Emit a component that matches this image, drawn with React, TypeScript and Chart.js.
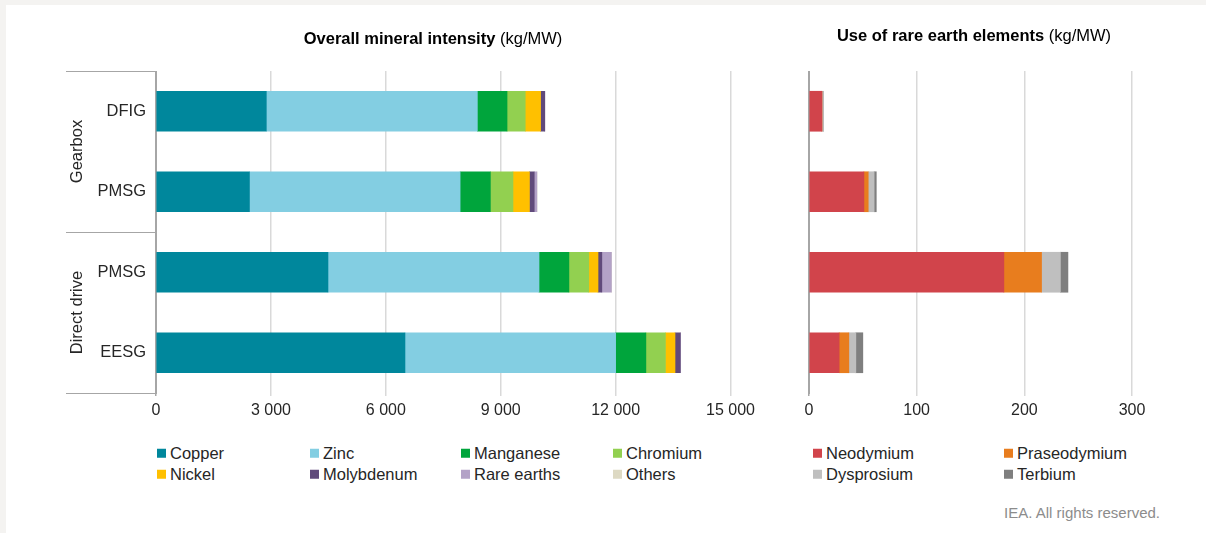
import React, { useEffect, useRef } from 'react';
import { Chart, registerables } from 'chart.js';

Chart.register(...registerables);

// ---------- data ----------
const categories = ['DFIG', 'PMSG', 'PMSG', 'EESG'];
const groups = ['Gearbox', 'Direct drive'];

// Overall mineral intensity (kg/MW)
const copper = [2880, 2440, 4490, 6500];
const zinc = [5510, 5500, 5510, 5500];
const manganese = [775, 790, 780, 790];
const chromium = [475, 590, 520, 510];
const nickel = [400, 430, 240, 250];
const molybdenum = [110, 125, 100, 140];
const rareEarths = [0, 70, 250, 0];
const others = [0, 0, 0, 0];

// Use of rare earth elements (kg/MW)
const neodymium = [12, 51, 181, 28];
const praseodymium = [0, 4, 35, 9];
const dysprosium = [1.5, 5.5, 17.5, 6.5];
const terbium = [0, 2, 7, 6.5];

const leftTicks = [0, 3000, 6000, 9000, 12000, 15000];
const rightTicks = [0, 100, 200, 300];

// ---------- style ----------
const FONT = '"Liberation Sans", Arial, sans-serif';
const TEXT = '#262626';
const GRID = '#d9d9d9';
const AXIS = '#a6a6a6';

const colors: Record<string, string> = {
  Copper: '#00879c',
  Zinc: '#83cee2',
  Manganese: '#00a53c',
  Chromium: '#92d050',
  Nickel: '#ffc000',
  Molybdenum: '#604a7b',
  'Rare earths': '#b3a2c7',
  Others: '#ddd9c3',
  Neodymium: '#d1444b',
  Praseodymium: '#e87d1e',
  Dysprosium: '#bfbfbf',
  Terbium: '#7f7f7f',
};

const leftSeries: [string, number[]][] = [
  ['Copper', copper],
  ['Zinc', zinc],
  ['Manganese', manganese],
  ['Chromium', chromium],
  ['Nickel', nickel],
  ['Molybdenum', molybdenum],
  ['Rare earths', rareEarths],
  ['Others', others],
];
const rightSeries: [string, number[]][] = [
  ['Neodymium', neodymium],
  ['Praseodymium', praseodymium],
  ['Dysprosium', dysprosium],
  ['Terbium', terbium],
];

const fmt = (v: number) => {
  const s = Math.round(v).toString();
  return s.replace(/\B(?=(\d{3})+(?!\d))/g, ' ');
};

const groupPlugin = {
  id: 'groupBrackets',
  afterDraw(chart: any) {
    const { ctx, chartArea } = chart;
    const y = chart.scales.y;
    const top = chartArea.top;
    const bottom = chartArea.bottom;
    const mid = (y.getPixelForValue(1) + y.getPixelForValue(2)) / 2;
    ctx.save();
    ctx.strokeStyle = AXIS;
    ctx.lineWidth = 1;
    [top, mid, bottom].forEach((yy) => {
      const py = Math.round(yy) + 0.5;
      ctx.beginPath();
      ctx.moveTo(66, py);
      ctx.lineTo(chartArea.left, py);
      ctx.stroke();
    });
    ctx.fillStyle = TEXT;
    ctx.font = `16.5px ${FONT}`;
    ctx.textAlign = 'center';
    ctx.textBaseline = 'middle';
    const centers = [(top + mid) / 2, (mid + bottom) / 2];
    groups.forEach((g, i) => {
      ctx.save();
      ctx.translate(77, centers[i]);
      ctx.rotate(-Math.PI / 2);
      ctx.fillText(g, 0, 0);
      ctx.restore();
    });
    ctx.restore();
  },
};

function makeOptions(max: number, stepTicks: number[], yWidth: number, padLeft: number, padRight: number, showYLabels: boolean) {
  return {
    responsive: false,
    animation: false as const,
    indexAxis: 'y' as const,
    devicePixelRatio: 1,
    layout: { padding: { left: padLeft, right: padRight, top: 71, bottom: 0 } },
    plugins: { legend: { display: false }, tooltip: { enabled: false }, title: { display: false } },
    scales: {
      x: {
        stacked: true,
        min: 0,
        max,
        afterBuildTicks: (scale: any) => {
          scale.ticks = stepTicks.map((v) => ({ value: v }));
        },
        afterFit: (scale: any) => {
          scale.height = 47;
        },
        grid: {
          color: (c: any) => (c.tick && c.tick.value === 0 ? AXIS : GRID),
          lineWidth: 1.5,
          drawTicks: true,
          tickLength: 3,
        },
        border: { display: false },
        ticks: {
          color: TEXT,
          font: { family: FONT, size: 16 },
          padding: 5,
          maxRotation: 0,
          autoSkip: false,
          callback: (v: any) => fmt(Number(v)),
        },
      },
      y: {
        stacked: true,
        afterFit: (scale: any) => {
          scale.width = yWidth;
        },
        grid: { display: false, drawTicks: false },
        border: { display: true, color: AXIS, width: 1 },
        ticks: {
          display: showYLabels,
          color: TEXT,
          font: { family: FONT, size: 16.5 },
          padding: 10,
        },
      },
    },
  };
}

function makeDatasets(series: [string, number[]][]) {
  return series.map(([name, values]) => ({
    label: name,
    data: values,
    backgroundColor: colors[name],
    borderWidth: 0,
    barThickness: 40,
  }));
}

const legendCols = [157, 310, 461, 613, 813, 1004];
const legendRows: string[][] = [
  ['Copper', 'Zinc', 'Manganese', 'Chromium', 'Neodymium', 'Praseodymium'],
  ['Nickel', 'Molybdenum', 'Rare earths', 'Others', 'Dysprosium', 'Terbium'],
];
const legendRowY = [453, 474];

export default function App() {
  const leftRef = useRef<HTMLCanvasElement>(null);
  const rightRef = useRef<HTMLCanvasElement>(null);

  useEffect(() => {
    document.body.style.margin = '0';
    const left = new Chart(leftRef.current as HTMLCanvasElement, {
      type: 'bar',
      data: { labels: categories, datasets: makeDatasets(leftSeries) as any },
      options: makeOptions(15000, leftTicks, 156, 0, 28, true) as any,
      plugins: [groupPlugin],
    });
    const right = new Chart(rightRef.current as HTMLCanvasElement, {
      type: 'bar',
      data: { labels: categories, datasets: makeDatasets(rightSeries) as any },
      options: makeOptions(300, rightTicks, 0, 49, 74, false) as any,
    });
    return () => {
      left.destroy();
      right.destroy();
    };
  }, []);

  return (
    <div style={{ position: 'relative', width: 1206, height: 533, background: '#f4f3f1', fontFamily: FONT, color: TEXT, overflow: 'hidden' }}>
      <div style={{ position: 'absolute', left: 6, top: 5, right: 0, bottom: 0, background: '#ffffff' }} />
      <canvas ref={leftRef} width={760} height={440} style={{ position: 'absolute', left: 0, top: 0 }} />
      <canvas ref={rightRef} width={446} height={440} style={{ position: 'absolute', left: 760, top: 0 }} />
      <div style={{ position: 'absolute', left: 433, top: 38, transform: 'translate(-50%, -50%)', whiteSpace: 'nowrap', fontSize: 16.5, lineHeight: 1, color: '#000' }}>
        <b>Overall mineral intensity</b> (kg/MW)
      </div>
      <div style={{ position: 'absolute', left: 974, top: 35, transform: 'translate(-50%, -50%)', whiteSpace: 'nowrap', fontSize: 16.5, lineHeight: 1, color: '#000' }}>
        <b>Use of rare earth elements</b> (kg/MW)
      </div>
      {legendRows.map((row, r) =>
        row.map((name, c) => (
          <div key={name} style={{ position: 'absolute', left: legendCols[c], top: legendRowY[r], transform: 'translateY(-50%)', display: 'flex', alignItems: 'center', whiteSpace: 'nowrap', fontSize: 16.5, lineHeight: 1 }}>
            <span style={{ display: 'inline-block', width: 9, height: 9, background: colors[name], marginRight: 4 }} />
            <span>{name}</span>
          </div>
        ))
      )}
      <div style={{ position: 'absolute', right: 46, top: 512, transform: 'translateY(-50%)', fontSize: 15, lineHeight: 1, color: '#8c8c8c', whiteSpace: 'nowrap' }}>
        IEA. All rights reserved.
      </div>
    </div>
  );
}
